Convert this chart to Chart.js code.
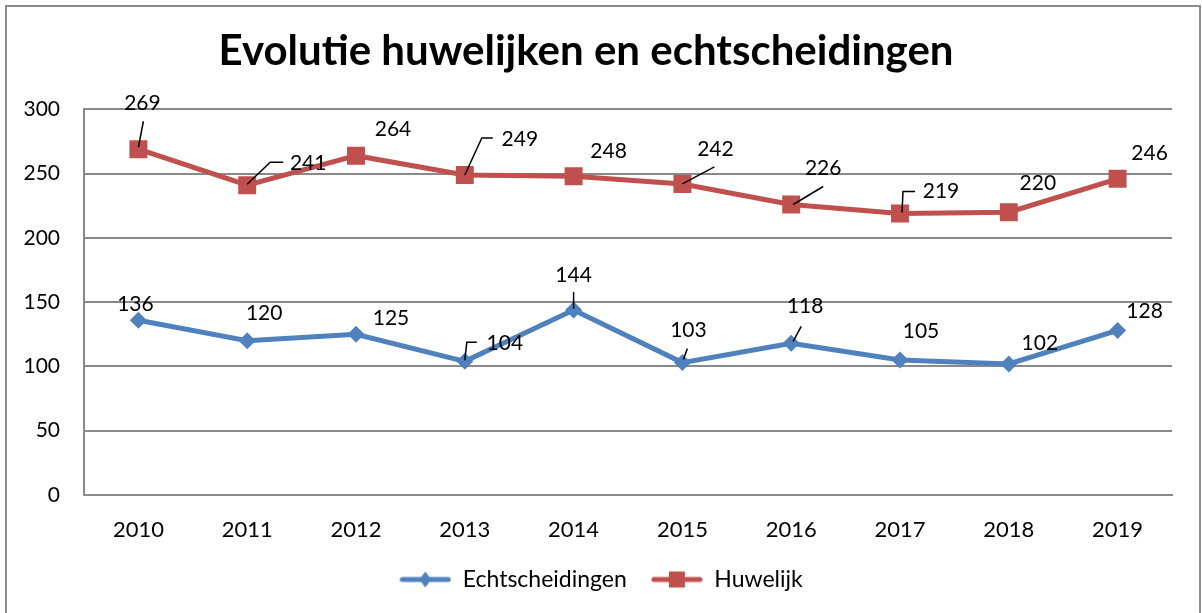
<!DOCTYPE html>
<html>
<head>
<meta charset="utf-8">
<script src="https://cdn.jsdelivr.net/npm/chart.js@4/dist/chart.umd.min.js"></script>
<style>
  html, body { margin: 0; padding: 0; background: #fff; }
  #wrap { width: 1202px; height: 613px; }
</style>
</head>
<body>
<div id="wrap"><canvas id="myChart" width="1202" height="613"></canvas></div>
<script>
// data
var years = ["2010", "2011", "2012", "2013", "2014", "2015", "2016", "2017", "2018", "2019"];
var echtscheidingen = [136, 120, 125, 104, 144, 103, 118, 105, 102, 128];
var huwelijk = [269, 241, 264, 249, 248, 242, 226, 219, 220, 246];
var yMin = 0, yMax = 300, yStep = 50;

// label offsets from the point (dx, dy) and leader lines, same order as the data
var echtLabelPos = [[-3, -16], [17, -28], [35, -16], [40, -18], [0, -35], [6, -32], [14, -37], [21, -29], [31, -21], [27, -19]];
var echtLeaders = [null, null, null,
  [[0, -1], [2, -19], [12, -19]],
  [[0, -1], [0, -18]],
  [[1, -3], [5, -14]],
  [[2, -2], [10, -17]],
  null, null, null];
var huwLabelPos = [[4, -46], [61, -22], [37, -26], [55, -36], [35, -25], [33, -35], [32, -36], [41, -22], [29, -29], [32, -26]];
var huwLeaders = [
  [[0, -2], [5, -28]],
  [[0, -1], [23, -23], [36, -23]],
  null,
  [[0, 0], [17, -37], [28, -37]],
  null,
  [[0, 0], [32, -17]],
  [[2, 0], [32, -18]],
  [[2, -1], [3, -22], [15, -22]],
  null, null];

var blue = "#4F81BD";
var red = "#C0504D";
var gridGrey = "#898989";
var fontName = "Lato";

// legend symbol: line with the marker in the middle
function legendSymbol(color, style) {
  var c = document.createElement("canvas");
  c.width = 52; c.height = 22;
  var g = c.getContext("2d");
  g.strokeStyle = color;
  g.lineWidth = 5;
  g.lineCap = "round";
  g.beginPath();
  g.moveTo(3, 11); g.lineTo(49, 11);
  g.stroke();
  g.fillStyle = color;
  if (style == "rectRot") {
    g.beginPath();
    g.moveTo(26, 3); g.lineTo(32, 11); g.lineTo(26, 19); g.lineTo(20, 11);
    g.closePath(); g.fill();
  } else {
    g.fillRect(18, 3, 16, 16);
  }
  return c;
}

var frame = {
  id: "frame",
  beforeDraw: function(chart) {
    var ctx = chart.ctx;
    ctx.save();
    ctx.fillStyle = "#fff";
    ctx.fillRect(0, 0, chart.width, chart.height);
    ctx.strokeStyle = "#8c8c8c";
    ctx.lineWidth = 2;
    ctx.strokeRect(6, 6, 1194, 700);
    ctx.restore();
  },
  // centre the legend on the whole picture, not only on the padded box
  afterLayout: function(chart) {
    chart.legend.right = chart.width;
  }
};

var pointLabels = {
  id: "pointLabels",
  afterDatasetsDraw: function(chart) {
    var ctx = chart.ctx;
    ctx.save();
    ctx.font = "21px " + fontName;
    ctx.fillStyle = "#000";
    ctx.strokeStyle = "#000";
    ctx.lineWidth = 1.5;
    ctx.textAlign = "center";
    ctx.textBaseline = "middle";
    chart.data.datasets.forEach(function(ds, di) {
      var meta = chart.getDatasetMeta(di);
      meta.data.forEach(function(pt, i) {
        var lead = ds.leaders[i];
        if (lead) {
          ctx.beginPath();
          ctx.moveTo(pt.x + lead[0][0], pt.y + lead[0][1]);
          for (var k = 1; k < lead.length; k++) {
            ctx.lineTo(pt.x + lead[k][0], pt.y + lead[k][1]);
          }
          ctx.stroke();
        }
        var off = ds.labelPos[i];
        ctx.fillText(String(ds.data[i]), pt.x + off[0], pt.y + off[1]);
      });
    });
    ctx.restore();
  }
};

var ctx = document.getElementById("myChart");
var myChart = new Chart(ctx, {
  type: "line",
  data: {
    labels: years,
    datasets: [
      {
        label: "Echtscheidingen",
        data: echtscheidingen,
        borderColor: blue,
        backgroundColor: blue,
        borderWidth: 5,
        pointStyle: "rectRot",
        pointRadius: 8.5,
        pointBorderWidth: 0,
        tension: 0,
        labelPos: echtLabelPos,
        leaders: echtLeaders
      },
      {
        label: "Huwelijk",
        data: huwelijk,
        borderColor: red,
        backgroundColor: red,
        borderWidth: 5,
        pointStyle: "rect",
        pointRadius: 12.7,
        pointBorderWidth: 0,
        tension: 0,
        labelPos: huwLabelPos,
        leaders: huwLeaders
      }
    ]
  },
  options: {
    responsive: false,
    animation: false,
    layout: { padding: { left: 0, right: 30, top: 0, bottom: 12 } },
    plugins: {
      title: {
        display: true,
        text: "Evolutie huwelijken en echtscheidingen",
        color: "#000",
        font: { family: fontName, size: 42, weight: "bold", lineHeight: 1.2 },
        padding: { top: 26, bottom: 33 }
      },
      legend: {
        position: "bottom",
        labels: {
          usePointStyle: true,
          pointStyleWidth: 52,
          color: "#000",
          font: { family: fontName, size: 23 },
          padding: 24,
          generateLabels: function(chart) {
            return chart.data.datasets.map(function(ds, i) {
              return {
                text: ds.label,
                datasetIndex: i,
                fontColor: "#000",
                lineWidth: 0,
                pointStyle: legendSymbol(ds.borderColor, ds.pointStyle)
              };
            });
          }
        }
      },
      tooltip: { enabled: false }
    },
    scales: {
      x: {
        offset: true,
        grid: { display: false, drawTicks: false },
        border: { color: gridGrey, width: 2 },
        ticks: { color: "#000", font: { family: fontName, size: 22 }, padding: 22 },
        afterFit: function(scale) { scale.height = 49; }
      },
      y: {
        min: yMin,
        max: yMax,
        ticks: { stepSize: yStep, color: "#000", font: { family: fontName, size: 21 }, padding: 24 },
        grid: { color: gridGrey, lineWidth: 2, drawTicks: false },
        border: { color: gridGrey, width: 2 },
        afterFit: function(scale) { scale.width = 84; }
      }
    }
  },
  plugins: [frame, pointLabels]
});
</script>
</body>
</html>
